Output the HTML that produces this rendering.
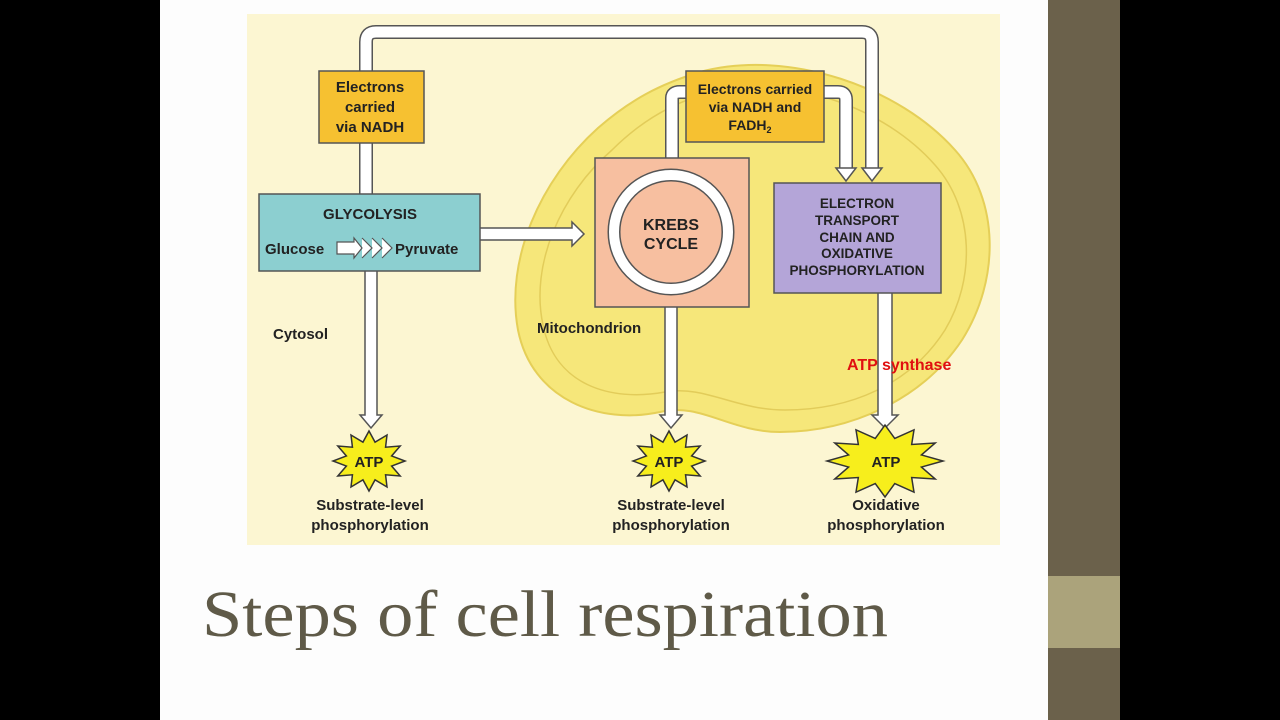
<!DOCTYPE html>
<html><head><meta charset="utf-8"><style>
html,body{margin:0;width:1280px;height:720px;background:#000;overflow:hidden;font-family:"Liberation Sans",sans-serif}
svg{display:block}
</style></head><body>
<svg width="1280" height="720" viewBox="0 0 1280 720" xmlns="http://www.w3.org/2000/svg" font-family="Liberation Sans, sans-serif">
<defs>
<polygon id="star" points="1,0 .628,.168 .866,.5 .46,.46 .5,.866 .168,.628 0,1 -.168,.628 -.5,.866 -.46,.46 -.866,.5 -.628,.168 -1,0 -.628,-.168 -.866,-.5 -.46,-.46 -.5,-.866 -.168,-.628 0,-1 .168,-.628 .5,-.866 .46,-.46 .866,-.5 .628,-.168" fill="#f7ee1c" stroke="#333" stroke-width="1.5" vector-effect="non-scaling-stroke"/>
</defs>
<rect x="0" y="0" width="1280" height="720" fill="#000"/>
<rect x="160" y="0" width="888" height="720" fill="#fdfdfd"/>
<rect x="1048" y="0" width="72" height="720" fill="#6b614b"/>
<rect x="1048" y="576" width="72" height="72" fill="#aba37b"/>
<rect x="247" y="14" width="753" height="531" fill="#fcf6d2"/>
<path d="M700,72 C790,48 900,88 955,150 C1000,200 1000,280 962,340 C922,400 850,432 780,432 C730,432 700,402 660,412 C600,425 532,400 518,330 C505,260 540,180 598,128 C630,100 660,84 700,72 Z" fill="#f6e77a" stroke="#e5cf58" stroke-width="2"/>
<path d="M705,94 C790,72 885,108 935,165 C975,210 975,280 945,330 C910,385 850,410 785,410 C735,410 705,385 665,392 C610,402 555,385 543,325 C530,265 560,195 612,150 C640,122 670,104 705,94 Z" fill="none" stroke="#e2cc5a" stroke-width="1.5"/>
<path d="M366,195 V42 Q366,32 376,32 H862 Q872,32 872,42 V170" fill="none" stroke="#555" stroke-width="14" stroke-linejoin="round"/>
<path d="M366,195 V42 Q366,32 376,32 H862 Q872,32 872,42 V170" fill="none" stroke="#fff" stroke-width="11" stroke-linejoin="round"/>
<polygon points="862,168 882,168 872,181" fill="#fff" stroke="#555" stroke-width="1.5"/>
<path d="M672,160 V98 Q672,92 680,92 H838 Q846,92 846,100 V170" fill="none" stroke="#555" stroke-width="14"/>
<path d="M672,160 V98 Q672,92 680,92 H838 Q846,92 846,100 V170" fill="none" stroke="#fff" stroke-width="11"/>
<polygon points="836,168 856,168 846,181" fill="#fff" stroke="#555" stroke-width="1.5"/>
<g fill="#fff" stroke="#555" stroke-width="1.5">
<path d="M365,270 V415 H360 L371,428 L382,415 H377 V270"/>
<path d="M665,305 V415 H660 L671,428 L682,415 H677 V305"/>
<path d="M878,292 V415 H872 L885,428 L898,415 H892 V292"/>
<path d="M480,228 H572 V222 L584,234 L572,246 V240 H480"/>
</g>
<rect x="319" y="71" width="105" height="72" fill="#f6c131" stroke="#555" stroke-width="1.5"/>
<text font-size="15" font-weight="bold" fill="#222" text-anchor="middle"><tspan x="370" y="92">Electrons</tspan><tspan x="370" y="112">carried</tspan><tspan x="370" y="132">via NADH</tspan></text>
<rect x="686" y="71" width="138" height="71" fill="#f6c131" stroke="#555" stroke-width="1.5"/>
<text font-size="14" font-weight="bold" fill="#222" text-anchor="middle"><tspan x="755" y="94">Electrons carried</tspan><tspan x="755" y="112">via NADH and</tspan><tspan x="750" y="130">FADH</tspan><tspan font-size="9" dy="3">2</tspan></text>
<rect x="259" y="194" width="221" height="77" fill="#8ccfd0" stroke="#555" stroke-width="1.5"/>
<text x="370" y="219" font-size="15" font-weight="bold" fill="#222" text-anchor="middle">GLYCOLYSIS</text>
<text x="265" y="254" font-size="15" font-weight="bold" fill="#222">Glucose</text>
<text x="395" y="254" font-size="15" font-weight="bold" fill="#222">Pyruvate</text>
<path d="M337,242 H354 V238 L362,248 L354,258 V254 H337 Z M362,238 L372,248 L362,258 M372,238 L382,248 L372,258 M382,238 L392,248 L382,258" fill="#fff" stroke="#555" stroke-width="1.2"/>
<rect x="595" y="158" width="154" height="149" fill="#f7bfa0" stroke="#555" stroke-width="1.5"/>
<circle cx="671" cy="232" r="57" fill="none" stroke="#555" stroke-width="13"/>
<circle cx="671" cy="232" r="57" fill="none" stroke="#fff" stroke-width="10"/>
<text font-size="16" font-weight="bold" fill="#222" text-anchor="middle"><tspan x="671" y="230">KREBS</tspan><tspan x="671" y="249">CYCLE</tspan></text>
<rect x="774" y="183" width="167" height="110" fill="#b4a5d8" stroke="#555" stroke-width="1.5"/>
<text font-size="13.5" font-weight="bold" fill="#222" text-anchor="middle"><tspan x="857" y="208">ELECTRON</tspan><tspan x="857" y="225">TRANSPORT</tspan><tspan x="857" y="242">CHAIN AND</tspan><tspan x="857" y="258">OXIDATIVE</tspan><tspan x="857" y="275">PHOSPHORYLATION</tspan></text>
<text x="273" y="339" font-size="15" font-weight="bold" fill="#222">Cytosol</text>
<text x="537" y="333" font-size="15" font-weight="bold" fill="#222">Mitochondrion</text>
<text x="847" y="370" font-size="16" font-weight="bold" fill="#e01010">ATP  synthase</text>
<use href="#star" transform="translate(369,461) scale(36,30)"/>
<use href="#star" transform="translate(669,461) scale(36,30)"/>
<use href="#star" transform="translate(885,461) scale(58,36)"/>
<g font-size="15" font-weight="bold" fill="#222" text-anchor="middle">
<text x="369" y="467">ATP</text><text x="669" y="467">ATP</text><text x="886" y="467">ATP</text>
<text x="370" y="510">Substrate-level</text><text x="370" y="530">phosphorylation</text>
<text x="671" y="510">Substrate-level</text><text x="671" y="530">phosphorylation</text>
<text x="886" y="510">Oxidative</text><text x="886" y="530">phosphorylation</text>
</g>
<text x="202" y="636" font-family="Liberation Serif, serif" font-size="66" fill="#5f5a48" textLength="686" lengthAdjust="spacingAndGlyphs">Steps of cell respiration</text>
</svg>
</body></html>
